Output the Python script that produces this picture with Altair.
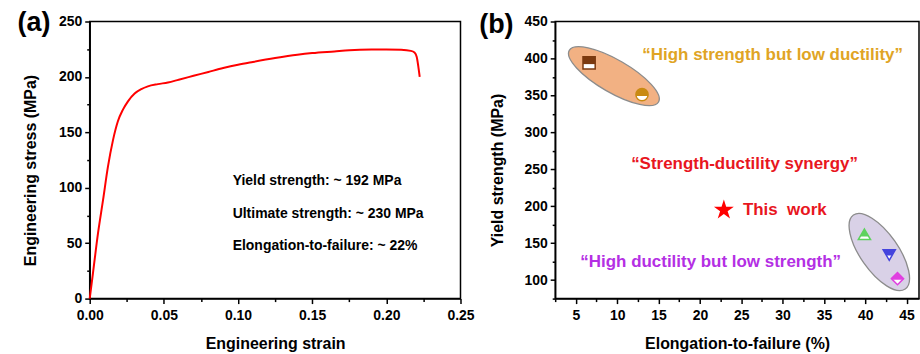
import altair as alt
import pandas as pd

# ---------------- Panel (a): engineering stress-strain curve ----------------
strain = [0.0, 0.0022, 0.0056, 0.009, 0.0123, 0.0157, 0.019, 0.0224, 0.0258, 0.0303,
          0.0348, 0.0392, 0.046, 0.0527, 0.060, 0.070, 0.080, 0.090, 0.100, 0.110,
          0.125, 0.140, 0.150, 0.165, 0.175, 0.190, 0.200, 0.210, 0.2165, 0.219,
          0.2205, 0.2215, 0.2225]
stress = [0, 23, 59, 89, 119, 143, 160, 170.5, 178, 185,
          189, 191.5, 193.5, 195, 197.5, 201, 204.5, 208, 211, 213.5,
          217, 220, 221.5, 223, 224, 224.7, 224.8, 224.5, 223.5, 222,
          218, 210, 200]

ann_text = ["Yield strength: ~ 192 MPa", "Ultimate strength: ~ 230 MPa",
            "Elongation-to-failure: ~ 22%"]
ann_strain = [0.0964, 0.0964, 0.0964]
ann_stress = [105.8, 76.4, 47.2]

# ---------------- Panel (b): yield strength vs elongation ----------------
ref_names = ["Ref. 1", "Ref. 2", "Ref. 3", "Ref. 4", "Ref. 5"]
ref_elong = [6.6, 13.0, 39.9, 42.9, 43.9]
ref_ys = [394, 351, 162, 134, 102]

work_elong = [22.9]
work_ys = [195]
work_label = ["This\u00a0 work"]
work_label_elong = [25.2]

group_names = ["High strength", "High ductility"]
group_cx = [9.6, 41.7]
group_cy = [376, 138]

region_text = ["\u201cHigh strength but low ductility\u201d",
               "\u201cStrength-ductility synergy\u201d",
               "\u201cHigh ductility but low strength\u201d"]
region_x = [28.8, 25.4, 21.3]
region_y = [405, 257, 124]

# ---------------- styles ----------------
FONT = "Liberation Sans"
ref_colors = ["#7B3A10", "#C98A12", "#5ED25E", "#4444DD", "#E040E0"]
region_colors = ["#E0A424", "#E8161E", "#B42FE4"]

outline_paths = [
    "M-1,-1H1V1H-1Z",
    "M-1,0A1,1 0 1,0 1,0A1,1 0 1,0 -1,0Z",
    "M0,-0.866L1,0.866H-1Z",
    "M0,0.866L1,-0.866H-1Z",
    "M-1,0L0,-1L1,0L0,1Z",
]
fill_paths = [
    "M-1,-1H1V0.2H-1Z",
    "M-0.98,0.2A1,1 0 1,1 0.98,0.2Z",
    "M0,-0.866L0.702,0.35H-0.702Z",
    "M-1,-0.866H1L0.442,0.1H-0.442Z",
    "M-1,0L0,-1L1,0L0.8,0.2H-0.8Z",
]
star_path = ("M0,-1L0.223,-0.307L0.951,-0.309L0.361,0.117L0.588,0.809L0,0.38"
             "L-0.588,0.809L-0.361,0.117L-0.951,-0.309L-0.223,-0.307Z")
ell_path1 = "M-1,0A1,0.317 0 1,0 1,0A1,0.317 0 1,0 -1,0Z"
ell_path2 = "M-1,0A1,0.42 0 1,0 1,0A1,0.42 0 1,0 -1,0Z"

curve_df = pd.DataFrame({"strain": strain, "stress": stress})
ann_df = pd.DataFrame({"text": ann_text, "strain": ann_strain, "stress": ann_stress})
ref_df = pd.DataFrame({"name": ref_names, "elong": ref_elong, "ys": ref_ys})
work_df = pd.DataFrame({"elong": work_elong, "ys": work_ys, "label": work_label,
                        "lx": work_label_elong})
grp_df = pd.DataFrame({"group": group_names, "cx": group_cx, "cy": group_cy})
reg_df = pd.DataFrame({"text": region_text, "x": region_x, "y": region_y,
                       "color": region_colors})

# ---------------- panel (a) ----------------
xa_scale = alt.Scale(domain=[0, 0.25], nice=False, zero=False)
ya_scale = alt.Scale(domain=[0, 250], nice=False)

xa_axis = alt.Axis(values=[0, 0.05, 0.10, 0.15, 0.20, 0.25], format=".2f",
                   title="Engineering strain", orient="bottom", titlePadding=13,
                   labelPadding=5)
ya_axis = alt.Axis(values=[0, 50, 100, 150, 200, 250], format="d",
                   title="Engineering stress (MPa)", orient="left", titlePadding=20,
                   titleY=149)
minor_a_x = alt.Axis(values=[0.025, 0.075, 0.125, 0.175, 0.225], labels=False,
                     domain=False, tickSize=3, title=None, orient="bottom")
minor_a_y = alt.Axis(values=[25, 75, 125, 175, 225], labels=False,
                     domain=False, tickSize=3, title=None, orient="left")

line_a = alt.Chart(curve_df).mark_line(color="#FF0000", strokeWidth=2,
                                       interpolate="monotone").encode(
    x=alt.X("strain:Q", scale=xa_scale, axis=xa_axis),
    y=alt.Y("stress:Q", scale=ya_scale, axis=ya_axis),
)
minor_a = alt.Chart(curve_df).mark_point(opacity=0).encode(
    x=alt.X("strain:Q", scale=xa_scale, axis=minor_a_x),
    y=alt.Y("stress:Q", scale=ya_scale, axis=minor_a_y),
)
text_a = alt.Chart(ann_df).mark_text(align="left", baseline="middle", font=FONT,
                                     fontWeight="bold", fontSize=14,
                                     color="black").encode(
    x=alt.X("strain:Q", scale=xa_scale, axis=None),
    y=alt.Y("stress:Q", scale=ya_scale, axis=None),
    text="text:N",
)
lab_a = alt.Chart(pd.DataFrame({"t": ["(a)"]})).mark_text(
    font=FONT, fontWeight="bold", fontSize=27, align="center", baseline="middle",
    color="black").encode(x=alt.value(-56), y=alt.value(2), text="t:N")

panel_a = alt.layer(line_a, minor_a, text_a, lab_a).resolve_axis(
    x="independent", y="independent").properties(width=372, height=278)

# ---------------- panel (b) ----------------
xb_scale = alt.Scale(domain=[2.5, 46.5], nice=False, zero=False)
yb_scale = alt.Scale(domain=[75, 450], nice=False, zero=False)

xb_axis = alt.Axis(values=list(range(5, 50, 5)), format="d",
                   title="Elongation-to-failure (%)", orient="bottom", titlePadding=13,
                   labelPadding=5)
yb_axis = alt.Axis(values=list(range(100, 451, 50)), format="d",
                   title="Yield strength (MPa)", orient="left", titlePadding=18,
                   titleY=149)
minor_b_x = alt.Axis(values=[2.5 + 5 * i for i in range(9)], labels=False,
                     domain=False, tickSize=3, title=None, orient="bottom")
minor_b_y = alt.Axis(values=[75 + 50 * i for i in range(8)], labels=False,
                     domain=False, tickSize=3, title=None, orient="left")

ell1 = alt.Chart(grp_df.iloc[[0]]).mark_point(
    shape=ell_path1, size=10690, angle=30, filled=True, fill="#F2B183",
    fillOpacity=1, stroke="#8C8C8C", strokeWidth=1.3, opacity=1).encode(
    x=alt.X("cx:Q", scale=xb_scale, axis=xb_axis),
    y=alt.Y("cy:Q", scale=yb_scale, axis=yb_axis),
)
ell2 = alt.Chart(grp_df.iloc[[1]]).mark_point(
    shape=ell_path2, size=8208, angle=55, filled=True, fill="#D9D1E7",
    fillOpacity=1, stroke="#8C8C8C", strokeWidth=1.3, opacity=1).encode(
    x=alt.X("cx:Q", scale=xb_scale, axis=None),
    y=alt.Y("cy:Q", scale=yb_scale, axis=None),
)
minor_b = alt.Chart(grp_df).mark_point(opacity=0).encode(
    x=alt.X("cx:Q", scale=xb_scale, axis=minor_b_x),
    y=alt.Y("cy:Q", scale=yb_scale, axis=minor_b_y),
)
pts_outline = alt.Chart(ref_df).mark_point(
    filled=True, fill="white", strokeWidth=1.5, size=150, opacity=1).encode(
    x=alt.X("elong:Q", scale=xb_scale, axis=None),
    y=alt.Y("ys:Q", scale=yb_scale, axis=None),
    shape=alt.Shape("name:N", scale=alt.Scale(domain=ref_names, range=outline_paths),
                    legend=None),
    stroke=alt.Stroke("name:N", scale=alt.Scale(domain=ref_names, range=ref_colors),
                      legend=None),
)
pts_fill = alt.Chart(ref_df).mark_point(filled=True, size=150, opacity=1).encode(
    x=alt.X("elong:Q", scale=xb_scale, axis=None),
    y=alt.Y("ys:Q", scale=yb_scale, axis=None),
    shape=alt.Shape("name:N", scale=alt.Scale(domain=ref_names, range=fill_paths),
                    legend=None),
    fill=alt.Fill("name:N", scale=alt.Scale(domain=ref_names, range=ref_colors),
                  legend=None),
)
star = alt.Chart(work_df).mark_point(shape=star_path, filled=True, color="#FF0000",
                                     size=440, opacity=1).encode(
    x=alt.X("elong:Q", scale=xb_scale, axis=None),
    y=alt.Y("ys:Q", scale=yb_scale, axis=None),
)
star_txt = alt.Chart(work_df).mark_text(align="left", baseline="middle", font=FONT,
                                        fontWeight="bold", fontSize=17,
                                        color="#E8161E").encode(
    x=alt.X("lx:Q", scale=xb_scale, axis=None),
    y=alt.Y("ys:Q", scale=yb_scale, axis=None),
    text="label:N",
)
reg_txt = alt.Chart(reg_df).mark_text(align="center", baseline="middle", font=FONT,
                                      fontWeight="bold", fontSize=17).encode(
    x=alt.X("x:Q", scale=xb_scale, axis=None),
    y=alt.Y("y:Q", scale=yb_scale, axis=None),
    text="text:N",
    color=alt.Color("color:N", scale=None, legend=None),
)
lab_b = alt.Chart(pd.DataFrame({"t": ["(b)"]})).mark_text(
    font=FONT, fontWeight="bold", fontSize=27, align="center", baseline="middle",
    color="black").encode(x=alt.value(-59), y=alt.value(4), text="t:N")

panel_b = alt.layer(ell1, ell2, minor_b, pts_outline, pts_fill, star, star_txt,
                    reg_txt, lab_b).resolve_axis(
    x="independent", y="independent").resolve_scale(
    shape="independent", fill="independent", stroke="independent").properties(
    width=365, height=278)

chart = alt.hconcat(panel_a, panel_b, spacing=3).properties(
    padding={"left": 16, "top": 8, "right": 0, "bottom": 0},
    background="white",
).configure_view(stroke="black", strokeWidth=1.5).configure_axis(
    labelFont=FONT, labelFontWeight="bold", labelFontSize=14, labelColor="black",
    titleFont=FONT, titleFontWeight="bold", titleFontSize=16, titleColor="black",
    domainColor="black", domainWidth=1.5, tickColor="black", tickWidth=1.5,
    tickSize=5, labelPadding=3, grid=False, labelFlush=False, labelOverlap=False,
)

chart.save("out.html", embed_options={"renderer": "svg", "actions": False})
